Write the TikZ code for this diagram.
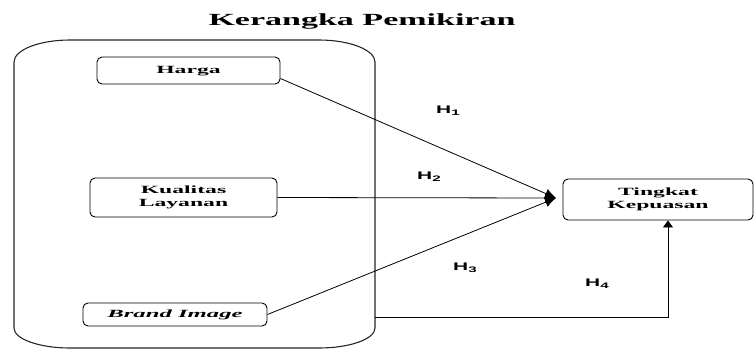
\documentclass[tikz,border=0pt]{standalone}
\usepackage{fontspec}
\setmainfont{Liberation Serif}
\newfontfamily\hsans{Liberation Sans}
\usetikzlibrary{arrows.meta}
% wide lettering: text stretched horizontally
\newcommand\widetext[2]{\scalebox{#1}[1]{\begin{tabular}{@{}c@{}}#2\end{tabular}}}
\newcommand\hyp[1]{\widetext{1.9}{\hsans\bfseries H\raisebox{-2.5pt}{\fontsize{8}{8}\selectfont #1}}}
\begin{document}
\begin{tikzpicture}[x=1pt,y=-1pt,
  varbox/.style={draw, line width=0.9pt, rounded corners=5pt, inner sep=0pt,
    font=\fontsize{11}{12.5}\selectfont\bfseries},
  flow/.style={line width=0.8pt, -{Latex[length=11pt,width=10pt]}},
  frame/.style={draw, line width=1.1pt, black!85},
  hlabel/.style={inner sep=0pt, font=\fontsize{11}{12}\selectfont}]
\useasboundingbox (0,0) rectangle (755,349);

% title
\node[inner sep=0pt, font=\fontsize{17}{20}\selectfont\bfseries] (title) at (362,21)
  {\widetext{2.0}{Kerangka Pemikiran}};

% enclosing frame of the independent variables
\draw[frame] (14,62) .. controls (14,50) and (39,40) .. (70,40) -- (319,40)
  .. controls (350,40) and (375,50) .. (375,62) -- (375,328)
  .. controls (375,339) and (350,348) .. (319,348) -- (70,348)
  .. controls (39,348) and (14,339) .. (14,328) -- cycle;

% variables
\node[varbox, minimum width=183pt, minimum height=27pt] (harga) at (188.5,70.5)
  {\widetext{2.15}{Harga}};
\node[varbox, minimum width=187pt, minimum height=39pt] (kualitas) at (183.5,197.5)
  {\widetext{2.15}{Kualitas\\Layanan}};
\node[varbox, minimum width=184pt, minimum height=23pt] (brand) at (175,314.5)
  {\widetext{2.25}{\itshape Brand Image}};
\node[varbox, minimum width=190pt, minimum height=41pt] (tingkat) at (658,199.5)
  {\widetext{2.15}{Tingkat\\Kepuasan}};

% connectors
\coordinate (conv) at (556,198);
\coordinate (h4start) at (375,317);
\draw[flow] ([yshift=-8pt]harga.east) -- (conv);
\draw[flow] (kualitas.east) -- (conv);
\draw[flow] (brand.east) -- (conv);
\draw[line width=0.9pt, -{Triangle[length=7pt,width=10pt]}] (h4start) -| ([xshift=10pt]tingkat.south);

% hypothesis labels
\node[hlabel] (h1) at (448,111) {\hyp{1}};
\node[hlabel] (h2) at (429,177) {\hyp{2}};
\node[hlabel] (h3) at (465,268) {\hyp{3}};
\node[hlabel] (h4) at (597,284) {\hyp{4}};
\end{tikzpicture}
\end{document}
